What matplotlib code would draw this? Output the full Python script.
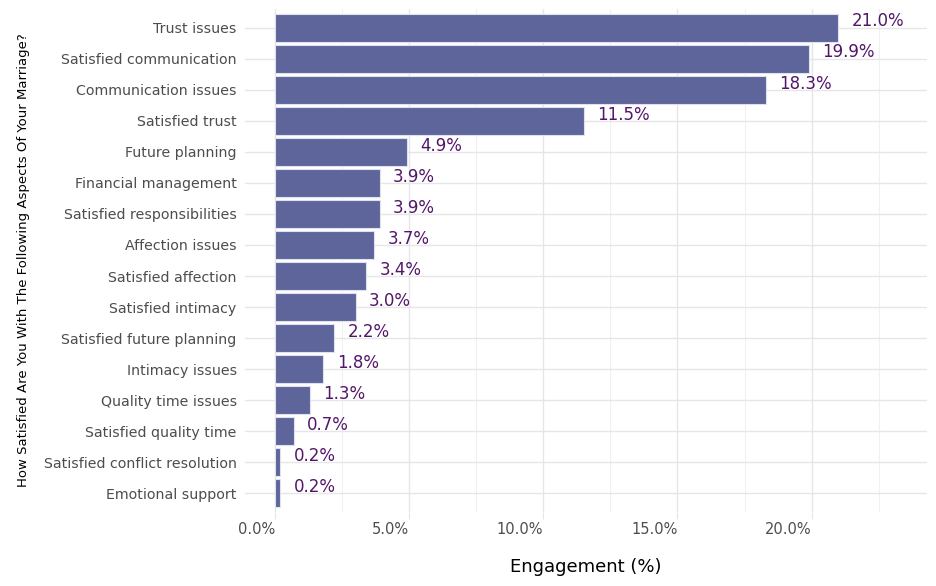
import numpy as np
import matplotlib
matplotlib.use('Agg')
import matplotlib.pyplot as plt
from matplotlib.ticker import MultipleLocator, FuncFormatter

categories = ['Trust issues', 'Satisfied communication', 'Communication issues',
              'Satisfied trust', 'Future planning', 'Financial management',
              'Satisfied responsibilities', 'Affection issues', 'Satisfied affection',
              'Satisfied intimacy', 'Satisfied future planning', 'Intimacy issues',
              'Quality time issues', 'Satisfied quality time',
              'Satisfied conflict resolution', 'Emotional support']
engagement = [21.0, 19.9, 18.3, 11.5, 4.9, 3.9, 3.9, 3.7, 3.4, 3.0, 2.2, 1.8, 1.3, 0.7, 0.2, 0.2]

fig = plt.figure(figsize=(9.36, 5.86), dpi=100)
ax = fig.add_axes([245/936, 1-512/586, (927-245)/936, (512-9)/586])

y = np.arange(len(categories))
grid_c = '#e6e6e6'
ax.barh(y, engagement, height=0.9, color='#5d659a', edgecolor='#dfe1ee', linewidth=0.8, zorder=3)
for yi, v in zip(y, engagement):
    ax.text(v + 0.5, yi - 0.2, f'{v:.1f}%', ha='left', va='center',
            fontsize=12, color='#521668', zorder=4)

ax.set_ylim(len(categories) - 0.4, -0.6)
ax.set_xlim(-1.12, 24.3)
ax.set_yticks(y)
ax.set_yticklabels(categories, fontsize=10.2, color='#4d4d4d')
ax.xaxis.set_major_locator(MultipleLocator(5))
ax.xaxis.set_minor_locator(MultipleLocator(2.5))
ax.xaxis.set_major_formatter(FuncFormatter(lambda v, p: f'{v:.1f}%'))
ax.tick_params(axis='x', which='major', labelsize=10.5, labelcolor='#4d4d4d',
               color=grid_c, length=5, pad=2)
for lab in ax.get_xticklabels():
    lab.set_ha('right')
ax.tick_params(axis='x', which='minor', length=0)
ax.tick_params(axis='y', color=grid_c, length=0, pad=6)

ax.grid(axis='y', color=grid_c, linewidth=1, zorder=0)
ax.grid(axis='x', which='major', color=grid_c, linewidth=1, zorder=0)
ax.grid(axis='x', which='minor', color='#f0f0f0', linewidth=0.8, zorder=0)
for s in ax.spines.values():
    s.set_visible(False)

ax.set_xlabel('Engagement (%)', fontsize=13, labelpad=15)
ax.set_ylabel('How Satisfied Are You With The Following Aspects Of Your Marriage?',
              fontsize=9.5, labelpad=10)

fig.savefig('out.png', dpi=100)
